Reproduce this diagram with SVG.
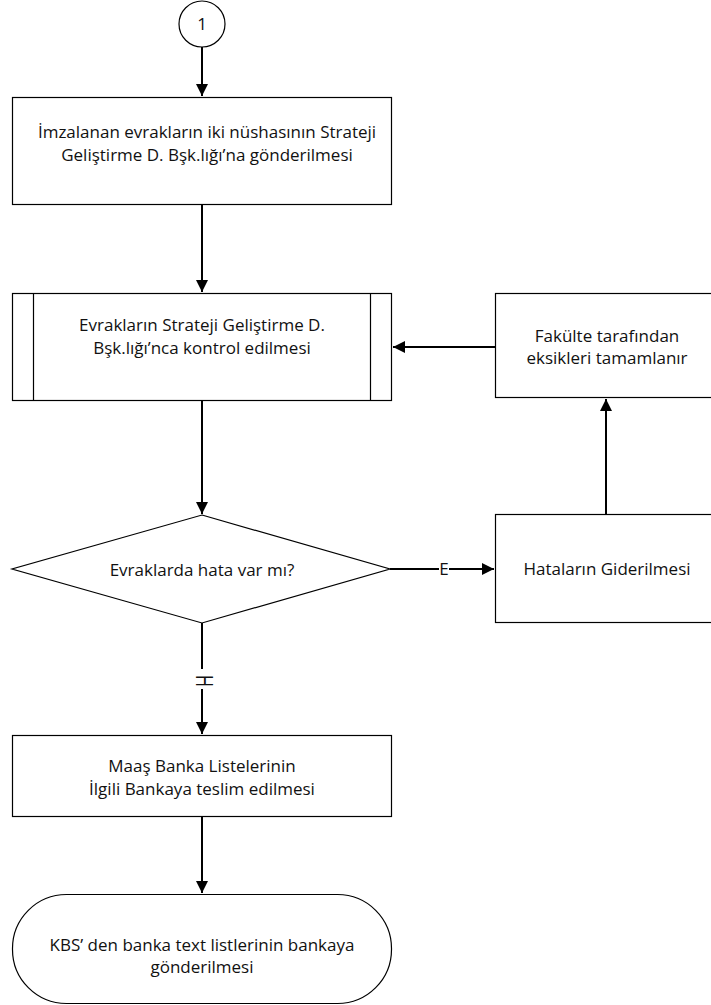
<svg xmlns="http://www.w3.org/2000/svg" width="711" height="1005" viewBox="0 0 711 1005">
<defs>
<style>
.box{fill:#fff;stroke:#000;stroke-width:1.2}
.t{font-family:"Open Sans","Liberation Sans",sans-serif;font-size:17px;fill:#111;text-anchor:middle}
.c{fill:none;stroke:#000;stroke-width:2}
</style>
<marker id="ah" viewBox="0 0 12 12" refX="12" refY="6" markerWidth="12" markerHeight="12" markerUnits="userSpaceOnUse" orient="auto">
<path d="M0,0 L12,6 L0,12 Z" fill="#000"/>
</marker>
</defs>
<rect width="711" height="1005" fill="#fff"/>
<g id="connectors">
<path class="c" d="M202,47 V96" marker-end="url(#ah)"/>
<path class="c" d="M202,205 V292" marker-end="url(#ah)"/>
<path class="c" d="M202,401 V514" marker-end="url(#ah)"/>
<path class="c" d="M390,569 H439"/>
<path class="c" d="M449,569 H494" marker-end="url(#ah)"/>
<text class="t" x="444" y="575">E</text>
<path class="c" d="M606,514 V399" marker-end="url(#ah)"/>
<path class="c" d="M495,347 H393" marker-end="url(#ah)"/>
<path class="c" d="M202,623 V669"/>
<path class="c" d="M202,689 V734" marker-end="url(#ah)"/>
<text class="t" transform="translate(196,681) rotate(90) scale(0.95,1.4)" x="0" y="0">H</text>
<path class="c" d="M202,817 V893" marker-end="url(#ah)"/>
</g>
<g id="start">
<circle cx="202" cy="24" r="23" class="box"/>
<text class="t" x="202" y="30">1</text>
</g>
<g id="n1">
<rect class="box" x="12.5" y="97.5" width="379" height="107"/>
<text class="t" x="207" y="138">İmzalanan evrakların iki nüshasının Strateji</text>
<text class="t" x="207" y="161">Geliştirme D. Bşk.lığı’na gönderilmesi</text>
</g>
<g id="n2">
<rect class="box" x="12.5" y="293.5" width="379" height="107"/>
<path class="box" d="M33.5,293.5 V400.5 M370.5,293.5 V400.5"/>
<text class="t" x="202" y="331">Evrakların Strateji Geliştirme D.</text>
<text class="t" x="202" y="354">Bşk.lığı’nca kontrol edilmesi</text>
</g>
<g id="n3">
<rect class="box" x="495.5" y="293.5" width="223" height="104"/>
<text class="t" x="607" y="342">Fakülte tarafından</text>
<text class="t" x="607" y="364">eksikleri tamamlanır</text>
</g>
<g id="decision">
<polygon class="box" points="202,515 390,569 202,623 12,569"/>
<text class="t" x="202" y="576">Evraklarda hata var mı?</text>
</g>
<g id="n4">
<rect class="box" x="495.5" y="514.5" width="223" height="108"/>
<text class="t" x="607" y="575">Hataların Giderilmesi</text>
</g>
<g id="n5">
<rect class="box" x="12.5" y="735.5" width="379" height="81"/>
<text class="t" x="202" y="772">Maaş Banka Listelerinin</text>
<text class="t" x="202" y="795">İlgili Bankaya teslim edilmesi</text>
</g>
<g id="end">
<rect class="box" x="12.5" y="894.5" width="379" height="109" rx="54" ry="54"/>
<text class="t" x="202" y="951">KBS’ den banka text listlerinin bankaya</text>
<text class="t" x="202" y="973">gönderilmesi</text>
</g>
</svg>
